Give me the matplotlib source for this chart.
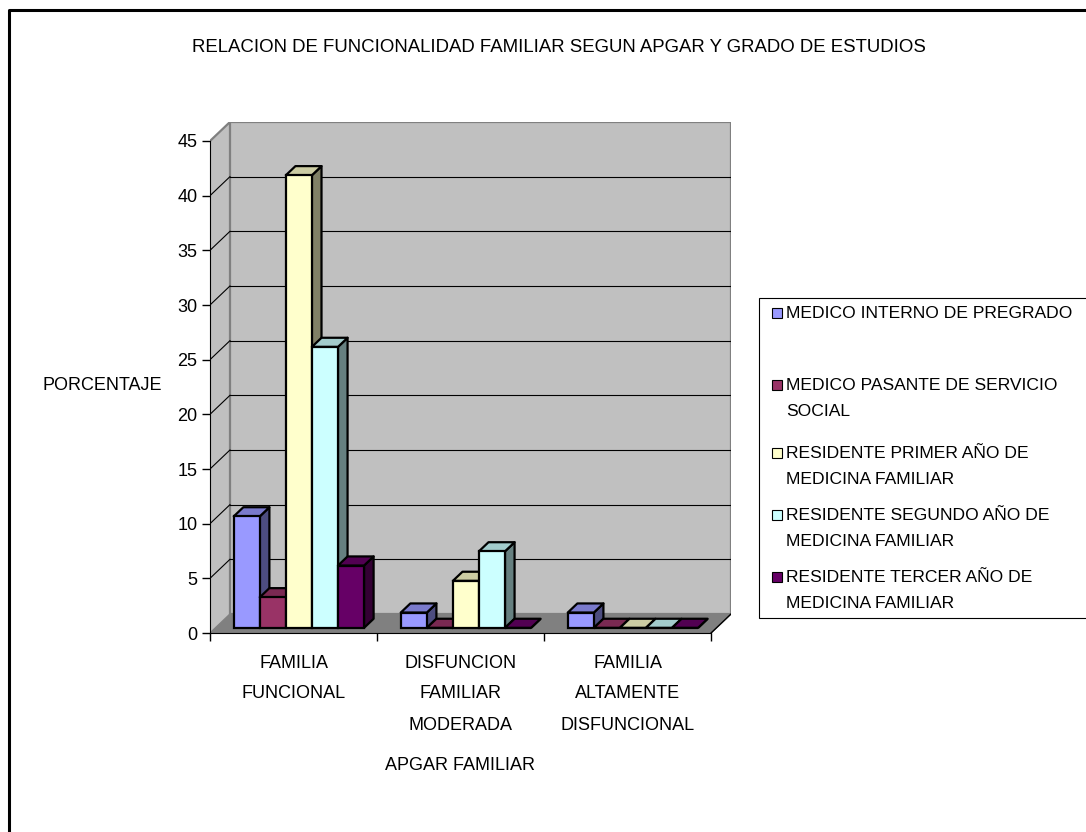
import matplotlib
matplotlib.use("Agg")
import matplotlib.pyplot as plt
from matplotlib.patches import Polygon, Rectangle
from matplotlib.lines import Line2D

plt.rcParams['font.family'] = ['Liberation Sans', 'DejaVu Sans']

categories = ["FAMILIA\nFUNCIONAL", "DISFUNCION\nFAMILIAR\nMODERADA", "FAMILIA\nALTAMENTE\nDISFUNCIONAL"]
series_names = ["MEDICO INTERNO DE PREGRADO",
                "MEDICO PASANTE DE SERVICIO\nSOCIAL",
                "RESIDENTE PRIMER AÑO DE\nMEDICINA FAMILIAR",
                "RESIDENTE SEGUNDO AÑO DE\nMEDICINA FAMILIAR",
                "RESIDENTE TERCER AÑO DE\nMEDICINA FAMILIAR"]
interno = [10.2, 1.4, 1.4]
pasante = [2.8, 0.0, 0.0]
primer = [41.4, 4.3, 0.0]
segundo = [25.7, 7.0, 0.0]
tercer = [5.7, 0.0, 0.0]
yticks = [0, 5, 10, 15, 20, 25, 30, 35, 40, 45]

series = [interno, pasante, primer, segundo, tercer]
colors = ["#9999FF", "#993366", "#FFFFCC", "#CCFFFF", "#660066"]


def shade(c, k):
    r, g, b = matplotlib.colors.to_rgb(c)
    return (r * k, g * k, b * k)


W, H = 1086, 832
fig = plt.figure(figsize=(W / 100, H / 100), dpi=100)
fs = 13

# fake 3d depth, in data units
ncat = len(categories)
ymax = yticks[-1]
DX = ncat * 20 / 502
DY = ymax * 19 / 492

ax = fig.add_axes([210 / W, 1 - 633 / H, (731 - 210) / W, (633 - 122) / H])
ax.set_xlim(0, ncat + DX)
ax.set_ylim(0, ymax + DY)
ax.patch.set_visible(False)

# walls and floor
ax.add_patch(Polygon([(0, 0), (DX, DY), (DX, ymax + DY), (0, ymax)],
                     facecolor="#C0C0C0", edgecolor="none", zorder=0))
ax.add_patch(Rectangle((DX, DY), ncat, ymax, facecolor="#C0C0C0",
                       edgecolor="#808080", lw=1.6, zorder=0.5))
ax.add_patch(Polygon([(0, 0), (ncat, 0), (ncat + DX, DY), (DX, DY)],
                     facecolor="#808080", edgecolor="#808080", lw=1, zorder=0.6))
ax.plot([0, DX], [ymax, ymax + DY], color="#808080", lw=1.6, zorder=0.7)
ax.plot([ncat, ncat + DX], [0, DY], color="black", lw=1, zorder=0.7)
for v in yticks[1:-1]:
    ax.plot([DX, ncat + DX], [v + DY, v + DY], color="black", lw=0.8, zorder=0.7)
    ax.plot([0, DX], [v, v + DY], color="black", lw=0.8, zorder=0.7)

# bars
f0, f1 = 0.27, 0.75
bw = 0.156
ns = len(series)
for j, (vals, c) in enumerate(zip(series, colors)):
    for i, v in enumerate(vals):
        x0 = i + 0.5 - ns * bw / 2 + j * bw + f0 * DX
        y0 = f0 * DY
        dx, dy = (f1 - f0) * DX, (f1 - f0) * DY
        z = 2 + j + i * 10
        top = y0 + v
        x1 = x0 + bw
        ax.add_patch(Polygon([(x1, y0), (x1 + dx, y0 + dy), (x1 + dx, top + dy), (x1, top)],
                             facecolor=shade(c, 0.5), edgecolor="black", lw=1.6,
                             joinstyle="round", zorder=z))
        ax.add_patch(Polygon([(x0, top), (x1, top), (x1 + dx, top + dy), (x0 + dx, top + dy)],
                             facecolor=shade(c, 0.8), edgecolor="black", lw=1.6,
                             joinstyle="round", zorder=z + 0.1))
        ax.bar(x0, v, bw, bottom=y0, align="edge", color=c, edgecolor="black",
               lw=1.6, zorder=z + 0.2)

# axes
for s in ["top", "right"]:
    ax.spines[s].set_visible(False)
ax.spines["left"].set_bounds(0, ymax)
ax.spines["bottom"].set_bounds(0, ncat)
ax.spines["left"].set_zorder(1)
ax.spines["bottom"].set_zorder(1)
ax.set_yticks(yticks)
ax.set_yticklabels([str(t) for t in yticks], fontsize=fs)
ax.tick_params(axis="y", length=6, width=1, pad=3)
ax.set_xticks(range(ncat + 1))
ax.set_xticklabels([""] * (ncat + 1))
ax.tick_params(axis="x", length=6, width=1)

for i, lab in enumerate(categories):
    for k, line in enumerate(lab.split("\n")):
        ax.annotate(line, xy=(i + 0.5, 0), xycoords=("data", "axes fraction"),
                    xytext=(0, -(663 - 633) - 31 * k), textcoords="offset pixels",
                    ha="center", va="center", fontsize=fs)

fig.text(559 / W, 1 - 47 / H, "RELACION DE FUNCIONALIDAD FAMILIAR SEGUN APGAR Y GRADO DE ESTUDIOS",
         ha="center", va="center", fontsize=13.4)
fig.text(102 / W, 1 - 386 / H, "PORCENTAJE", ha="center", va="center", fontsize=fs)
fig.text(460 / W, 1 - 765 / H, "APGAR FAMILIAR", ha="center", va="center", fontsize=fs)

# legend
fig.add_artist(Rectangle((759 / W, 1 - 618 / H), (1100 - 759) / W, (618 - 298) / H,
                         transform=fig.transFigure, facecolor="white",
                         edgecolor="black", lw=0.8))
entry_y = [313, 385, 453, 515, 577]
for name, c, ey in zip(series_names, colors, entry_y):
    fig.add_artist(Rectangle((772 / W, 1 - (ey + 5) / H), 10 / W, 10 / H,
                             transform=fig.transFigure, facecolor=c,
                             edgecolor="black", lw=0.8))
    for k, line in enumerate(name.split("\n")):
        fig.text(786 / W, 1 - (ey + 26.7 * k) / H, line, ha="left", va="center",
                 fontsize=fs - 0.4)

# outer border (left and top only visible)
fig.add_artist(Line2D([8.5 / W, 8.5 / W, 1], [0, 1 - 9.5 / H, 1 - 9.5 / H],
                      transform=fig.transFigure, color="black", lw=2.2))

fig.savefig("out.png", dpi=100)
